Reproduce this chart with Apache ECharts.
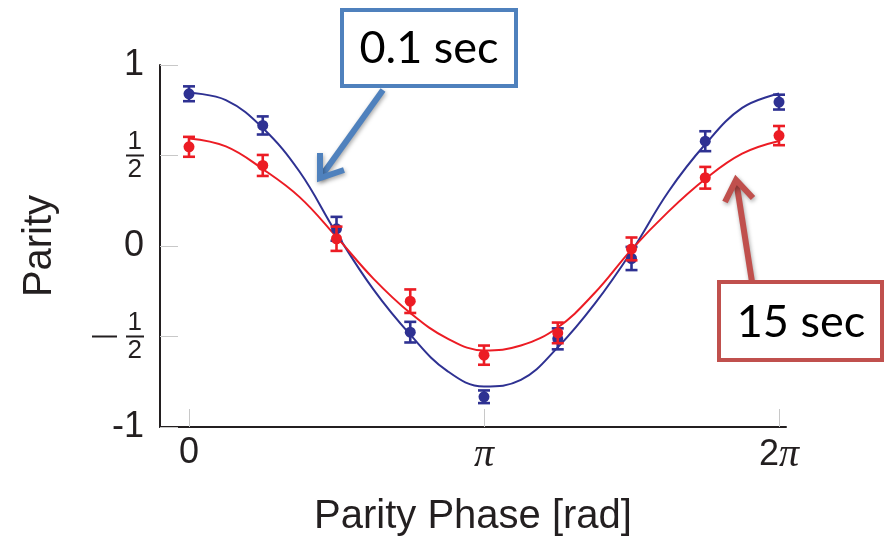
<!DOCTYPE html>
<html>
<head>
<meta charset="utf-8">
<script src="https://cdn.jsdelivr.net/npm/echarts@6/dist/echarts.min.js"></script>
<style>
  html, body { margin: 0; padding: 0; background: #ffffff; }
  #chart { width: 891px; height: 540px; }
</style>
</head>
<body>
<div id="chart"></div>
<script>
// Parity phase in units of pi
const phase = [0, 0.25, 0.5, 0.75, 1, 1.25, 1.5, 1.75, 2];

// 0.1 sec measurement (blue)
const parityShort = [0.841, 0.666, 0.095, -0.476, -0.833, -0.513, -0.069, 0.579, 0.795];
const errShort    = [0.041, 0.050, 0.066, 0.057, 0.035, 0.058, 0.064, 0.055, 0.041];

// 15 sec measurement (red)
const parityLong = [0.548, 0.445, 0.040, -0.305, -0.603, -0.480, -0.016, 0.377, 0.610];
const errLong    = [0.055, 0.058, 0.067, 0.065, 0.053, 0.057, 0.063, 0.060, 0.053];

// Fitted fringes, sampled every pi/8
const fitPhase = [0, 0.125, 0.25, 0.375, 0.5, 0.625, 0.75, 0.875, 1,
                  1.125, 1.25, 1.375, 1.5, 1.625, 1.75, 1.875, 2];
const fitShort = [0.846, 0.806, 0.652, 0.410, 0.070, -0.240, -0.490, -0.690, -0.776,
                  -0.740, -0.560, -0.320, -0.030, 0.300, 0.562, 0.763, 0.842];
const fitLong  = [0.594, 0.550, 0.425, 0.270, 0.050, -0.180, -0.370, -0.510, -0.577,
                  -0.550, -0.450, -0.260, -0.020, 0.190, 0.370, 0.510, 0.580];

// Axis ticks
const xTicks = [0, 1, 2];
const xTickLabels = ['0', '{pi|π}', '2{pi|π}'];
const yTicks = [-1, -0.5, 0, 0.5, 1];

const BLUE = '#2e3192';
const RED = '#ec1c24';
const INK = '#231f20';
const SANS = '"Liberation Sans", Arial, Helvetica, sans-serif';

const chart = echarts.init(document.getElementById('chart'), null, { renderer: 'canvas' });

function pairs(xs, ys) { return xs.map((x, i) => [x, ys[i]]); }
function bars(xs, ys, es) { return xs.map((x, i) => [x, ys[i] - es[i], ys[i] + es[i]]); }

function errorBarItem(color) {
  return function (params, api) {
    const x = api.value(0);
    const lo = api.coord([x, api.value(1)]);
    const hi = api.coord([x, api.value(2)]);
    const hw = 6;
    const style = { stroke: color, lineWidth: 2.6 };
    return {
      type: 'group',
      children: [
        { type: 'line', shape: { x1: lo[0], y1: lo[1], x2: hi[0], y2: hi[1] }, style: style },
        { type: 'line', shape: { x1: lo[0] - hw, y1: lo[1], x2: lo[0] + hw, y2: lo[1] }, style: style },
        { type: 'line', shape: { x1: hi[0] - hw, y1: hi[1], x2: hi[0] + hw, y2: hi[1] }, style: style }
      ]
    };
  };
}

// Stacked fraction labels for the half ticks
function yLabel(v) {
  if (Math.abs(v - 1) < 1e-6) return '1';
  if (Math.abs(v) < 1e-6) return '0';
  if (Math.abs(v + 1) < 1e-6) return '-1';
  if (Math.abs(v - 0.5) < 1e-6) return '{n|1}{e|}\n{bar|}\n{n|2}{e|}';
  if (Math.abs(v + 0.5) < 1e-6) return '{n|1}{e|}\n{m|}{sp|}{bar|}\n{n|2}{e|}';
  return '';
}

const option = {
  animation: false,
  backgroundColor: '#ffffff',
  grid: { left: 160, right: 105, top: 65, bottom: 113, outerBoundsMode: 'none', containLabel: false },
  xAxis: {
    type: 'value',
    min: -0.0983,
    max: 2.0237,
    name: 'Parity Phase [rad]',
    nameLocation: 'middle',
    nameGap: 70,
    nameTextStyle: { fontFamily: SANS, fontSize: 40, color: INK },
    axisLine: { show: true, onZero: false, lineStyle: { color: INK, width: 2 } },
    axisTick: { show: true, inside: true, length: 18, customValues: xTicks,
                lineStyle: { color: '#c8c8c8', width: 1 } },
    axisLabel: {
      customValues: xTicks,
      margin: 8,
      fontFamily: SANS, fontSize: 36, color: INK,
      formatter: function (v) {
        const i = xTicks.findIndex(t => Math.abs(t - v) < 1e-6);
        return i >= 0 ? xTickLabels[i] : '';
      },
      rich: {
        pi: { fontFamily: '"Liberation Serif", "DejaVu Serif", serif', fontStyle: 'italic',
              fontSize: 40, color: INK }
      }
    },
    splitLine: { show: false }
  },
  yAxis: {
    type: 'value',
    min: -1,
    max: 1,
    interval: 0.5,
    name: 'Parity',
    nameLocation: 'middle',
    nameRotate: 90,
    nameGap: 100,
    nameTextStyle: { fontFamily: SANS, fontSize: 40, color: INK },
    axisLine: { show: true, onZero: false, lineStyle: { color: INK, width: 2 } },
    axisTick: { show: true, inside: true, length: 18, lineStyle: { color: '#c8c8c8', width: 1 } },
    axisLabel: {
      margin: 16,
      fontFamily: SANS, fontSize: 36, color: INK,
      formatter: yLabel,
      rich: {
        n: { fontFamily: SANS, fontSize: 26, color: INK, align: 'right', lineHeight: 22 },
        e: { width: 2, height: 2, align: 'right', lineHeight: 22 },
        bar: { width: 18, height: 2, lineHeight: 6, align: 'right', backgroundColor: INK },
        m: { width: 25, height: 2, lineHeight: 6, align: 'right', backgroundColor: INK },
        sp: { width: 9, height: 2, lineHeight: 6, align: 'right' }
      }
    },
    splitLine: { show: false }
  },
  series: [
    {
      name: '0.1 sec fit', type: 'line', smooth: 0.4, showSymbol: false, z: 2,
      data: pairs(fitPhase, fitShort),
      lineStyle: { color: BLUE, width: 2 }
    },
    {
      name: '15 sec fit', type: 'line', smooth: 0.4, showSymbol: false, z: 2,
      data: pairs(fitPhase, fitLong),
      lineStyle: { color: RED, width: 2 }
    },
    {
      name: '0.1 sec error', type: 'custom', z: 3,
      renderItem: errorBarItem(BLUE),
      encode: { x: 0, y: [1, 2] },
      data: bars(phase, parityShort, errShort)
    },
    {
      name: '0.1 sec', type: 'scatter', z: 4, symbol: 'circle', symbolSize: 11,
      itemStyle: { color: BLUE, opacity: 1 },
      data: pairs(phase, parityShort)
    },
    {
      name: '15 sec error', type: 'custom', z: 5,
      renderItem: errorBarItem(RED),
      encode: { x: 0, y: [1, 2] },
      data: bars(phase, parityLong, errLong)
    },
    {
      name: '15 sec', type: 'scatter', z: 6, symbol: 'circle', symbolSize: 11,
      itemStyle: { color: RED, opacity: 1 },
      data: pairs(phase, parityLong)
    }
  ],
  graphic: [
    // callout arrows
    {
      type: 'polyline', z: 100,
      shape: { points: [[383, 90], [320, 178]] },
      style: { stroke: '#4f81bd', lineWidth: 6, shadowBlur: 4, shadowColor: 'rgba(0,0,0,0.35)', shadowOffsetX: 1, shadowOffsetY: 2 }
    },
    {
      type: 'polyline', z: 100,
      shape: { points: [[320, 153], [320, 178], [344, 170]] },
      style: { stroke: '#4f81bd', lineWidth: 6, lineJoin: 'miter', shadowBlur: 4, shadowColor: 'rgba(0,0,0,0.35)', shadowOffsetX: 1, shadowOffsetY: 2 }
    },
    {
      type: 'polyline', z: 100,
      shape: { points: [[752, 282], [736, 180]] },
      style: { stroke: '#c0504d', lineWidth: 6, shadowBlur: 4, shadowColor: 'rgba(0,0,0,0.35)', shadowOffsetX: 1, shadowOffsetY: 2 }
    },
    {
      type: 'polyline', z: 100,
      shape: { points: [[725, 202], [736, 180], [753, 198]] },
      style: { stroke: '#c0504d', lineWidth: 6, lineJoin: 'miter', shadowBlur: 4, shadowColor: 'rgba(0,0,0,0.35)', shadowOffsetX: 1, shadowOffsetY: 2 }
    },
    // callout boxes
    {
      type: 'rect', z: 101,
      shape: { x: 342, y: 10, width: 174, height: 76 },
      style: { fill: '#ffffff', stroke: '#4f81bd', lineWidth: 4 }
    },
    {
      type: 'text', z: 102, x: 429, y: 48,
      style: { text: '0.1 sec', font: '45px Lato, "Open Sans", sans-serif', fill: '#000000',
               textAlign: 'center', textVerticalAlign: 'middle' }
    },
    {
      type: 'rect', z: 101,
      shape: { x: 719, y: 282, width: 163, height: 78 },
      style: { fill: '#ffffff', stroke: '#c0504d', lineWidth: 4 }
    },
    {
      type: 'text', z: 102, x: 801, y: 322,
      style: { text: '15 sec', font: '45px Lato, "Open Sans", sans-serif', fill: '#000000',
               textAlign: 'center', textVerticalAlign: 'middle' }
    }
  ]
};

chart.setOption(option);
</script>
</body>
</html>
